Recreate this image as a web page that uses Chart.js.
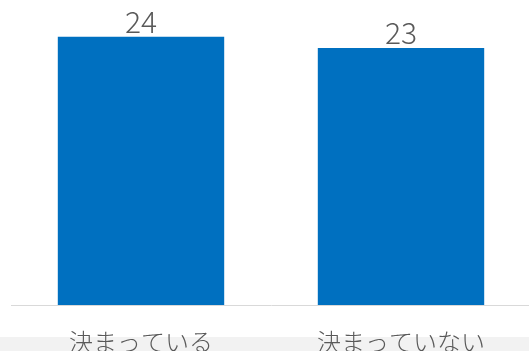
<!DOCTYPE html>
<html>
<head>
<meta charset="utf-8">
<script src="https://cdn.jsdelivr.net/npm/chart.js@4"></script>
<style>
  html, body { margin: 0; padding: 0; background: #ffffff; overflow: hidden; width: 529px; height: 351px; }
  #band { position: absolute; left: 0; top: 337px; width: 529px; height: 14px; background: #f2f2f2; }
  #c { position: absolute; left: 0; top: 0; }
</style>
</head>
<body>
<div id="band"></div>
<canvas id="c" width="531" height="351"></canvas>
<script>
const categories = ["決まっている", "決まっていない"];
const values = [24, 23];

const valueLabels = {
  id: 'valueLabels',
  afterDatasetsDraw(chart) {
    const ctx = chart.ctx;
    const meta = chart.getDatasetMeta(0);
    ctx.save();
    ctx.font = '300 30px "Noto Sans CJK JP", "Noto Sans", sans-serif';
    ctx.fillStyle = '#595959';
    ctx.textAlign = 'center';
    ctx.textBaseline = 'alphabetic';
    meta.data.forEach((bar, i) => {
      ctx.fillText(String(values[i]), bar.x, bar.y - 4);
    });
    ctx.restore();
  }
};

new Chart(document.getElementById('c'), {
  type: 'bar',
  data: {
    labels: categories,
    datasets: [{
      data: values,
      backgroundColor: '#0070C0',
      borderWidth: 0,
      barPercentage: 0.64,
      categoryPercentage: 1.0
    }]
  },
  options: {
    responsive: false,
    animation: false,
    layout: { padding: { left: 11, right: 0, top: 0, bottom: 0 } },
    plugins: { legend: { display: false }, tooltip: { enabled: false } },
    scales: {
      x: {
        grid: { display: false, drawTicks: false },
        border: { display: true, color: '#d9d9d9', width: 1 },
        ticks: {
          color: '#595959',
          padding: 22,
          font: { family: '"Noto Sans CJK JP", sans-serif', size: 24, weight: '300' },
          maxRotation: 0,
          autoSkip: false
        },
        afterFit(scale) { scale.height = 46; }
      },
      y: {
        display: false,
        min: 0,
        max: 27.3
      }
    }
  },
  plugins: [valueLabels]
});
</script>
</body>
</html>
